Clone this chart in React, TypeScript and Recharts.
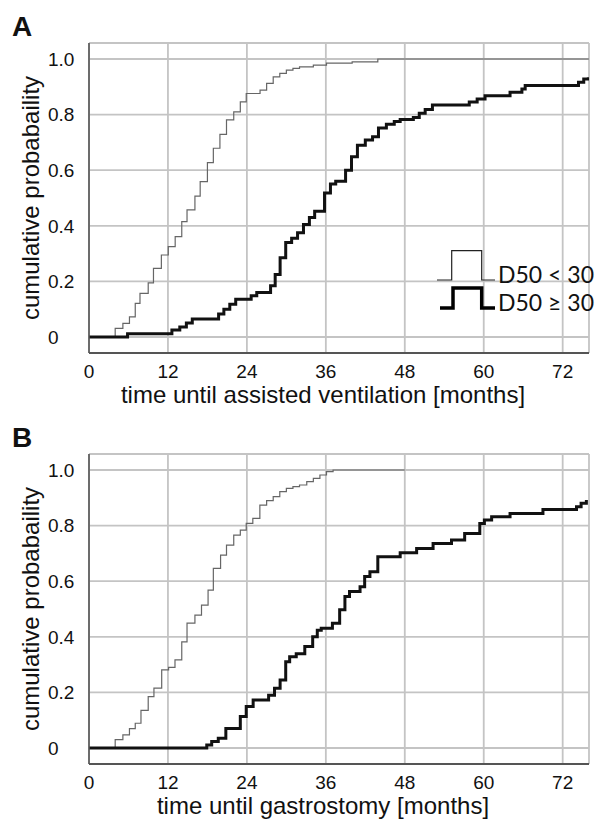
import React from 'react';
import { LineChart, Line, XAxis, YAxis, CartesianGrid, Legend } from 'recharts';

// A: time until assisted ventilation, months -> cumulative probability
const ventFastT = [0, 3.98, 5.15, 6.15, 7.03, 7.75, 9.0, 9.8, 11.0, 12.05, 13.1, 14.1, 14.9, 16.1, 16.9, 18.0, 18.9, 19.9, 20.9, 22.0, 23.0, 23.9, 26.0, 27.0, 28.0, 29.0, 30.0, 31.0, 32.0, 34.1, 36.1, 40.0, 43.9, 76];
const ventFastP = [0, 0.031, 0.049, 0.072, 0.121, 0.157, 0.195, 0.247, 0.295, 0.325, 0.361, 0.415, 0.457, 0.507, 0.559, 0.627, 0.679, 0.729, 0.781, 0.81, 0.846, 0.876, 0.888, 0.912, 0.936, 0.948, 0.96, 0.966, 0.972, 0.978, 0.985, 0.99, 1.0, 1.0];
const ventSlowT = [0, 5.86, 12.6, 13.8, 14.8, 15.7, 19.7, 20.5, 21.4, 22.3, 24.65, 25.5, 27.6, 28.3, 29.05, 29.9, 30.8, 31.7, 32.6, 33.5, 34.3, 35.8, 36.7, 37.5, 39.0, 39.9, 40.8, 42.0, 43.1, 44.0, 45.2, 46.4, 47.3, 49.3, 50.2, 51.1, 52.2, 57.8, 59.0, 60.2, 64.0, 65.8, 66.3, 74.4, 75.2, 75.9];
const ventSlowP = [0, 0.012, 0.025, 0.036, 0.05, 0.065, 0.083, 0.1, 0.118, 0.136, 0.148, 0.16, 0.184, 0.225, 0.285, 0.34, 0.355, 0.375, 0.405, 0.43, 0.452, 0.518, 0.55, 0.56, 0.6, 0.648, 0.69, 0.709, 0.72, 0.752, 0.765, 0.775, 0.782, 0.79, 0.805, 0.818, 0.835, 0.845, 0.856, 0.868, 0.88, 0.892, 0.905, 0.916, 0.928, 0.934];

// B: time until gastrostomy
const gastFastT = [0, 3.98, 5.15, 6.15, 7.03, 7.9, 9.0, 9.87, 11.05, 12.1, 13.07, 14.1, 14.9, 16.1, 17.1, 18.1, 18.9, 20.0, 20.9, 22.0, 23.0, 23.9, 24.9, 25.97, 27.0, 28.0, 29.0, 30.0, 31.0, 32.0, 33.1, 34.1, 35.1, 36.1, 37.1, 48];
const gastFastP = [0, 0.03, 0.047, 0.07, 0.089, 0.135, 0.185, 0.215, 0.281, 0.29, 0.317, 0.382, 0.449, 0.478, 0.514, 0.568, 0.646, 0.694, 0.73, 0.766, 0.784, 0.808, 0.826, 0.874, 0.89, 0.904, 0.922, 0.934, 0.94, 0.946, 0.958, 0.97, 0.982, 0.994, 1.0, 1.0];
const gastSlowT = [0, 17.9, 18.65, 19.65, 20.8, 23.0, 23.9, 24.95, 27.3, 28.2, 29.05, 29.9, 30.5, 31.5, 32.8, 34.0, 34.7, 35.3, 37.0, 38.1, 38.9, 39.6, 41.2, 41.9, 42.7, 43.9, 47.3, 49.8, 52.3, 55.1, 57.1, 59.4, 60.1, 61.2, 64.0, 69.0, 74.1, 74.8, 75.6];
const gastSlowP = [0, 0.011, 0.023, 0.035, 0.07, 0.113, 0.149, 0.173, 0.19, 0.215, 0.245, 0.31, 0.328, 0.339, 0.365, 0.4, 0.424, 0.431, 0.449, 0.497, 0.545, 0.563, 0.58, 0.617, 0.634, 0.688, 0.702, 0.718, 0.736, 0.748, 0.772, 0.808, 0.82, 0.832, 0.844, 0.858, 0.868, 0.88, 0.892];

const xTicks = [0, 12, 24, 36, 48, 60, 72];
const yTicks = [0, 0.2, 0.4, 0.6, 0.8, 1.0];
const legendLabels = ['D50 < 30', 'D50 ≥ 30'];

const toRows = (t: number[], p: number[]) => t.map((v, i) => ({ t: v, p: p[i] }));

const YTick = ({ y, payload }: any) => (
  <text x={48} y={y} dy="0.36em" fontSize={19} fill="#111" textAnchor="start">
    {payload.value === 0 ? '0' : payload.value.toFixed(1)}
  </text>
);

const yTitle = (props: any) => {
  const vb = props.viewBox || { y: 43, height: 310 };
  const cx = 31;
  const cy = vb.y + vb.height / 2;
  return (
    <text x={cx} y={cy} dy="0.35em" transform={`rotate(-90 ${cx} ${cy})`} textAnchor="middle" fontSize={24} fill="#111">
      cumulative probabaility
    </text>
  );
};

const LegendBox = () => (
  <svg width={176} height={100} style={{ fontFamily: 'Lato, "Noto Sans", sans-serif' }}>
    <path d="M7,60 H21.7 V30.7 H51.7 V60 H65" fill="none" stroke="#222" strokeWidth={1.2} />
    <text x={68} y={63} fontSize={23} fill="#111">{legendLabels[0]}</text>
    <path d="M10,88 H23 V68 H51.7 V88 H65" fill="none" stroke="#000" strokeWidth={3.5} />
    <text x={68} y={91} fontSize={23} fill="#111">{legendLabels[1]}</text>
  </svg>
);

function Panel({ letter, xTitle, fast, slow, showLegend, top }: any) {
  return (
    <div style={{ position: 'absolute', left: 0, top, width: 606, height: 409 }}>
      <div style={{ position: 'absolute', left: 12, top: 11, fontSize: 28, fontWeight: 'bold', lineHeight: 'normal', zIndex: 2 }}>
        {letter}
      </div>
      <LineChart width={606} height={409} margin={{ top: 43, right: 17, bottom: 0, left: 0 }}>
        <CartesianGrid stroke="#c4c4c4" strokeWidth={1.8} />
        <XAxis
          type="number"
          dataKey="t"
          domain={[0, 76]}
          ticks={xTicks}
          allowDataOverflow
          height={56}
          tickSize={0}
          tickMargin={12}
          tickLine={false}
          axisLine={{ stroke: '#555', strokeWidth: 2 }}
          tick={{ fontSize: 19, fill: '#111' }}
          label={{ value: xTitle, position: 'insideBottom', offset: 6, dx: -16, style: { fontSize: 24, fill: '#111' } }}
        />
        <YAxis
          type="number"
          domain={[-0.0576, 1.0576]}
          ticks={yTicks}
          allowDataOverflow
          width={89}
          tickLine={false}
          axisLine={{ stroke: '#555', strokeWidth: 1.6 }}
          tick={<YTick />}
          label={yTitle}
        />
        <Line data={fast} dataKey="p" type="stepAfter" stroke="#666" strokeWidth={1.2} dot={false} isAnimationActive={false} />
        <Line data={slow} dataKey="p" type="stepAfter" stroke="#111" strokeWidth={3} dot={false} isAnimationActive={false} />
        {showLegend && (
          <Legend
            layout="horizontal"
            verticalAlign="middle"
            align="center"
            wrapperStyle={{ left: 430, top: 220, width: 176, height: 100 }}
            content={() => <LegendBox />}
          />
        )}
      </LineChart>
    </div>
  );
}

export default function App() {
  return (
    <div
      style={{
        position: 'absolute',
        left: 0,
        top: 0,
        width: 606,
        height: 820,
        overflow: 'hidden',
        background: '#fff',
        fontFamily: '"Liberation Sans", Arial, sans-serif',
        color: '#111',
      }}
    >
      <Panel
        letter="A"
        xTitle="time until assisted ventilation [months]"
        fast={toRows(ventFastT, ventFastP)}
        slow={toRows(ventSlowT, ventSlowP)}
        showLegend
        top={0}
      />
      <Panel
        letter="B"
        xTitle="time until gastrostomy [months]"
        fast={toRows(gastFastT, gastFastP)}
        slow={toRows(gastSlowT, gastSlowP)}
        showLegend={false}
        top={411}
      />
    </div>
  );
}
